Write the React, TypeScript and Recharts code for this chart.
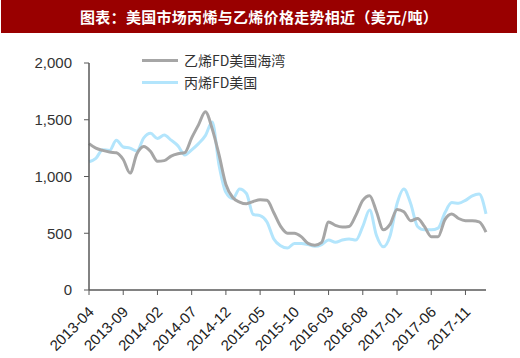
import { LineChart, Line, XAxis, YAxis } from 'recharts';

// ─── Data ─────────────────────────────────────────────────────────────────────

const MONTHS: string[] = [];
for (let y = 2013, m = 4; MONTHS.length < 59; m++) {
  if (m > 12) { m = 1; y++; }
  MONTHS.push(`${y}-${String(m).padStart(2, '0')}`);
}

// 乙烯FD美国海湾 (US Gulf ethylene), USD/t
const ETHYLENE = [
  1290, 1250, 1230, 1215, 1210, 1150, 1030, 1200, 1265, 1220,
  1135, 1140, 1180, 1200, 1210, 1340, 1455, 1570, 1420, 1190,
  930, 815, 775, 760, 780, 795, 790, 680, 560, 500,
  500, 470, 410, 395, 420, 600, 570, 555, 560, 660,
  790, 830, 690, 530, 580, 710, 690, 610, 630, 560,
  470, 470, 620, 670, 630, 610, 610, 600, 510,
];

// 丙烯FD美国 (US propylene), USD/t
const PROPYLENE = [
  1130, 1160, 1235, 1230, 1320, 1260, 1250, 1225, 1340, 1380,
  1335, 1365, 1320, 1270, 1190, 1235, 1290, 1360, 1480, 1100,
  860, 805, 890, 850, 665, 655, 600, 450, 390, 370,
  410, 410, 400, 385, 400, 440, 420, 440, 450, 440,
  560, 705, 480, 380, 480, 760, 890, 760, 560, 530,
  530, 545, 680, 770, 765, 790, 830, 845, 670,
];

const Y_TICKS = [0, 500, 1000, 1500, 2000];

const data = MONTHS.map((month, i) => ({
  month,
  ethylene: ETHYLENE[i],
  propylene: PROPYLENE[i],
}));

const GREY = '#a6a6a6';
const BLUE = '#b3e5fc';
const FONT = 'Arial, "Liberation Sans", sans-serif';

// ─── Pieces ───────────────────────────────────────────────────────────────────

function XTick({ x, y, payload }: any) {
  const tx = x + 2;
  const ty = y + 12;
  return (
    <text
      x={tx}
      y={ty}
      transform={`rotate(-45, ${tx}, ${ty})`}
      textAnchor="end"
      dominantBaseline="central"
      fontSize={15}
      fill="#222"
      fontFamily={FONT}
    >
      {payload.value}
    </text>
  );
}

function LegendBox() {
  const rows = [
    { color: GREY, label: '乙烯FD美国海湾' },
    { color: BLUE, label: '丙烯FD美国' },
  ];
  return (
    <div
      style={{
        position: 'absolute',
        left: 142,
        top: 49,
        fontFamily: '"Noto Sans CJK SC", sans-serif',
        fontSize: 14,
        color: '#333',
        whiteSpace: 'nowrap',
      }}
    >
      {rows.map((r) => (
        <div key={r.label} style={{ display: 'flex', alignItems: 'center', height: 22 }}>
          <span style={{ display: 'inline-block', width: 36, height: 3, background: r.color, marginRight: 6 }} />
          {r.label}
        </div>
      ))}
    </div>
  );
}

// ─── Main ─────────────────────────────────────────────────────────────────────

export default function App() {
  return (
    <div style={{ position: 'absolute', left: 0, top: 0, width: 520, height: 358, background: '#fff' }}>
      <LineChart
        width={520}
        height={358}
        data={data}
        margin={{ top: 63, right: 34, left: 19, bottom: 8 }}
        style={{ position: 'absolute', left: 0, top: 0 }}
      >
        <XAxis
          dataKey="month"
          interval={4}
          tick={<XTick />}
          height={60}
          axisLine={{ stroke: '#595959', strokeWidth: 1.5 }}
          tickLine={{ stroke: '#595959' }}
          tickSize={5}
        />
        <YAxis
          domain={[0, 2000]}
          ticks={Y_TICKS}
          width={70}
          tickFormatter={(v: number) => v.toLocaleString('en-US')}
          tick={{ fontSize: 15, fill: '#333', fontFamily: FONT }}
          axisLine={{ stroke: '#595959', strokeWidth: 1.5 }}
          tickLine={{ stroke: '#595959' }}
          tickSize={5}
          tickMargin={12}
        />
        <Line
          type="monotone"
          dataKey="propylene"
          stroke={BLUE}
          strokeWidth={3}
          dot={false}
          isAnimationActive={false}
        />
        <Line
          type="monotone"
          dataKey="ethylene"
          stroke={GREY}
          strokeWidth={3}
          dot={false}
          isAnimationActive={false}
        />
      </LineChart>
      <div
        style={{
          position: 'absolute',
          left: 1,
          top: 0,
          width: 516,
          height: 33,
          background: '#990000',
          color: '#fff',
          fontWeight: 'bold',
          fontSize: 15,
          letterSpacing: 0.3,
          lineHeight: '33px',
          textAlign: 'center',
          fontFamily: '"Noto Sans CJK SC", sans-serif',
        }}
      >
        图表：美国市场丙烯与乙烯价格走势相近（美元/吨）
      </div>
      <LegendBox />
    </div>
  );
}
